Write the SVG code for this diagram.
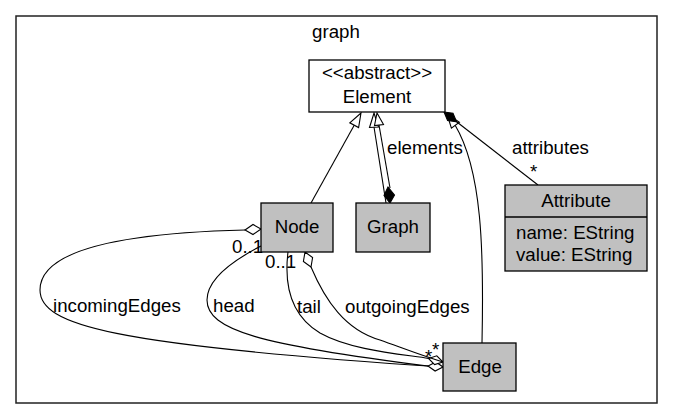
<svg xmlns="http://www.w3.org/2000/svg" width="673" height="419" viewBox="0 0 673 419">
<style>
text{font-family:"Liberation Sans",Arial,sans-serif;font-size:18.7px;fill:#000}
.c{text-anchor:middle}
.box{stroke:#000;stroke-width:1.3}
.cls{fill:#c0c0c0}
.ln{fill:none;stroke:#000;stroke-width:1.1}
.hol{fill:#fff;stroke:#000;stroke-width:1.1}
.fil{fill:#000;stroke:#000;stroke-width:1.1}
</style>
<rect x="16" y="16" width="641" height="387" fill="#fff" stroke="#222" stroke-width="1.5"/>
<text class="c" x="336" y="38">graph</text>

<g id="connectors">
  <!-- Node -> Element generalization -->
  <path class="ln" d="M311,203 L354.2,125.2"/>
  <polygon class="hol" points="361,113 358.6,127.6 349.8,122.8"/>
  <!-- Graph -> Element (generalization + elements composition) -->
  <path class="ln" d="M386,203 L374,127"/>
  <polygon class="hol" points="374,113 378.5,127 369.5,127.5"/>
  <path class="ln" d="M390,188 L379,125"/>
  <polygon class="hol" points="377,113 383.5,124.5 374.5,125.5"/>
  <polygon class="fil" points="390,203 394.5,195 388,187 384,195.5"/>
  <text x="387" y="154">elements</text>
  <!-- Edge -> Element -->
  <path class="ln" d="M482,343 C484,250 482,170 455,125"/>
  <polygon class="hol" points="447,114 459.4,122.2 451.4,128.2"/>
  <!-- attributes composition -->
  <path class="ln" d="M538,185 L456.6,121.8"/>
  <polygon class="fil" points="444,112 453,113.3 456.6,121.8 447.6,120.5"/>
  <text x="512" y="154">attributes</text>
  <text x="530" y="178">*</text>
  <!-- incomingEdges -->
  <path class="ln" d="M245,230 C120,233 40,250 40,290 C40,325 110,345 443,367"/>
  <polygon class="hol" points="261,229 253,234.5 245,230 253,224.5"/>
  <text x="53" y="312">incomingEdges</text>
  <text x="232" y="253">0..1</text>
  <!-- head -->
  <path class="ln" d="M261,246 C230,262 207,280 207,300 C207,330 260,345 428,366"/>
  <polygon class="hol" points="443,367 435.1,371 428,366 435.9,362"/>
  <text x="213" y="312">head</text>
  <!-- tail -->
  <path class="ln" d="M288,252 C284,285 290,315 320,333 C350,350 400,354 428.5,358.4"/>
  <polygon class="hol" points="443,362 434.6,364.6 428.5,358.4 436.8,355.8"/>
  <text x="297" y="313">tail</text>
  <text x="265" y="268">0..1</text>
  <!-- outgoingEdges -->
  <path class="ln" d="M311,267 C325,300 345,330 380,340 C400,347 420,355 443,362"/>
  <polygon class="hol" points="305,252 312.6,257.6 311,267 303.4,261.4"/>
  <text x="345" y="313">outgoingEdges</text>
  <text x="432" y="356">*</text>
  <text x="425" y="363">*</text>
</g>

<g id="Element">
  <rect class="box" x="309" y="60" width="136" height="52" fill="#fff"/>
  <text class="c" x="377" y="79">&lt;&lt;abstract&gt;&gt;</text>
  <text class="c" x="377" y="103">Element</text>
</g>
<g id="Node">
  <rect class="box cls" x="261" y="203" width="72" height="49"/>
  <text class="c" x="297" y="233">Node</text>
</g>
<g id="Graph">
  <rect class="box cls" x="356" y="203" width="74" height="49"/>
  <text class="c" x="393" y="233">Graph</text>
</g>
<g id="Attribute">
  <rect class="box cls" x="505" y="185" width="142" height="86"/>
  <line class="box" x1="505" y1="217" x2="647" y2="217"/>
  <text class="c" x="576" y="207">Attribute</text>
  <text x="516" y="239">name: EString</text>
  <text x="516" y="261">value: EString</text>
</g>
<g id="Edge">
  <rect class="box cls" x="443" y="343" width="73" height="48"/>
  <text class="c" x="480" y="373">Edge</text>
</g>
</svg>
